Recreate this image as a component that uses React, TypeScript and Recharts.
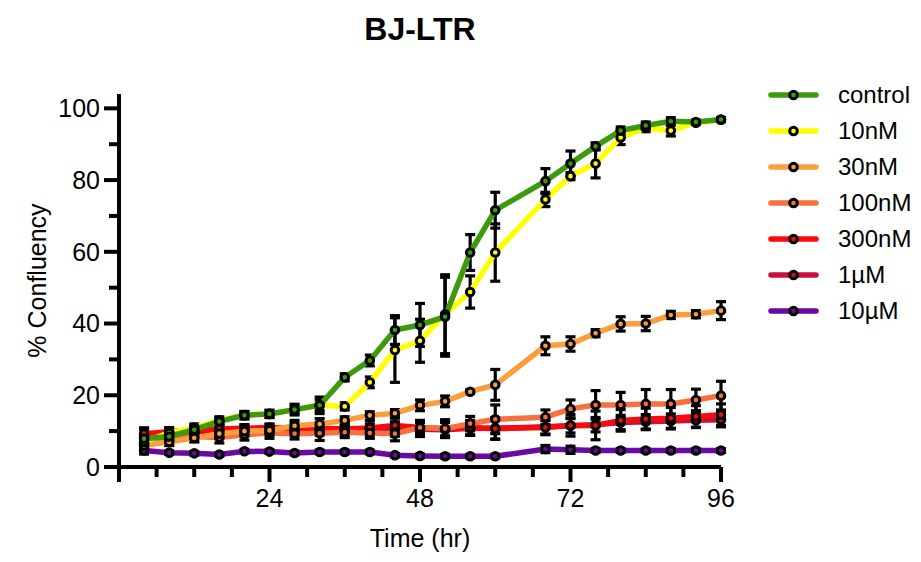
import React from 'react';
import { LineChart, Line, XAxis, YAxis, ErrorBar } from 'recharts';

// sampling times (hr) - no reading at 64
const times = [4, 8, 12, 16, 20, 24, 28, 32, 36, 40, 44, 48, 52, 56, 60, 68, 72, 76, 80, 84, 88, 92, 96];

const control = [7.9, 8.5, 10.4, 12.7, 14.4, 14.8, 16.0, 17.2, 25.0, 29.7, 38.2, 39.6, 41.9, 59.8, 71.6, 79.7, 84.6, 89.4, 93.8, 95.2, 96.4, 96.2, 96.9];
const controlErr = [3, 1.5, 1, 1, 1, 1, 1.5, 2.3, 1, 1.5, 4, 6, 11, 5, 5, 3.5, 3.5, 1, 1, 1, 1, 0.5, 0.5];

const nM10 = [7.0, 9.5, 11.0, 13.0, 14.5, 14.8, 16.0, 17.2, 16.9, 23.6, 32.6, 35.2, 42.6, 48.8, 59.8, 74.6, 81.1, 84.6, 91.9, 94.5, 93.8, 96.0, 96.8];
const nM10Err = [2, 1.5, 1, 1, 1, 1, 1, 1.5, 1, 1.5, 9, 6, 11, 4.5, 8, 2, 1, 4, 2, 1, 1.5, 0.5, 0.5];

const nM30 = [6.0, 7.0, 8.1, 9.3, 10.0, 10.2, 11.5, 12.0, 13.0, 14.4, 15.0, 17.2, 18.3, 21.0, 22.9, 33.8, 34.3, 37.3, 39.9, 40.0, 42.4, 42.6, 43.6];
const nM30Err = [1, 1, 1, 1, 1, 1, 1.5, 1.5, 1, 1, 1, 1.5, 1.5, 0.5, 4.3, 2.5, 2, 1, 2, 2, 1, 1, 2.5];

const nM100 = [6.5, 7.5, 8.5, 8.2, 9.0, 9.5, 9.3, 9.4, 9.7, 9.5, 9.3, 11.0, 10.7, 12.1, 13.3, 13.9, 16.2, 17.3, 17.3, 17.6, 17.6, 18.7, 19.9];
const nM100Err = [1.5, 1.5, 1.5, 1.5, 1.5, 1.5, 1.5, 2, 1.5, 1.5, 2, 2, 2.5, 2, 4, 2, 2.5, 4, 3.5, 4, 4, 3, 4];

const nM300 = [9.3, 9.8, 10.3, 10.6, 10.8, 11.0, 10.7, 10.8, 10.6, 10.9, 11.6, 11.0, 10.7, 11.0, 10.7, 11.0, 11.6, 11.6, 13.0, 13.4, 13.6, 14.1, 14.6];
const nM300Err = [1.5, 1, 1, 1, 1, 1, 1.5, 1.5, 1.5, 2, 2, 1.5, 2, 2, 3, 2, 3, 4, 3, 3, 3, 3, 3];

const uM1 = [8.5, 9.0, 9.5, 10.0, 10.2, 10.3, 10.2, 10.4, 10.3, 10.5, 10.6, 10.5, 10.4, 10.8, 10.8, 11.2, 11.5, 11.8, 12.4, 12.6, 12.8, 13.0, 13.2];
const uM1Err = [2, 1.5, 1.5, 1.5, 1.5, 1.5, 1.5, 1.5, 1.5, 1.5, 2, 2, 2, 2, 3, 2, 2, 2, 2, 2, 2, 2, 2];

const uM10 = [4.6, 4.0, 3.8, 3.5, 4.4, 4.3, 3.9, 4.2, 4.2, 4.2, 3.3, 3.1, 3.0, 3.0, 3.0, 5.0, 4.8, 4.6, 4.6, 4.6, 4.6, 4.6, 4.6];
const uM10Err = [1, 0.5, 0.5, 0.5, 0.5, 0.5, 0.5, 0.5, 0.5, 0.5, 0.5, 0.5, 0.5, 0.5, 0.5, 1, 1, 0.5, 0.5, 0.5, 0.5, 0.5, 0.5];

const xTicks = [0, 6, 12, 18, 24, 30, 36, 42, 48, 54, 60, 66, 72, 78, 84, 90, 96];
const yTicks = [0, 10, 20, 30, 40, 50, 60, 70, 80, 90, 100];

const series = [
  { key: 'control', name: 'control', color: '#3c9a0c', values: control, err: controlErr },
  { key: 'nM10', name: '10nM', color: '#ffff00', values: nM10, err: nM10Err },
  { key: 'nM30', name: '30nM', color: '#fb9e3e', values: nM30, err: nM30Err },
  { key: 'nM100', name: '100nM', color: '#f8703f', values: nM100, err: nM100Err },
  { key: 'nM300', name: '300nM', color: '#fa0a0a', values: nM300, err: nM300Err },
  { key: 'uM1', name: '1µM', color: '#c9103c', values: uM1, err: uM1Err },
  { key: 'uM10', name: '10µM', color: '#6a0aa0', values: uM10, err: uM10Err },
];

const data = times.map((t, i) => {
  const row: any = { time: t };
  series.forEach((s) => {
    row[s.key] = s.values[i];
    row[s.key + 'Err'] = s.err[i];
  });
  return row;
});

const font = '"Liberation Sans", Arial, sans-serif';

const XTick = (props: any) => {
  const { x, y, payload } = props;
  const v = payload.value;
  const major = v % 24 === 0;
  return (
    <g>
      <line x1={x} x2={x} y1={y} y2={y + (major ? 15 : 10)} stroke="#000" strokeWidth={4} />
      {major && v > 0 && (
        <text x={x} y={y + 31} dy="0.35em" textAnchor="middle" fontSize={25} fontFamily={font} fill="#000">
          {v}
        </text>
      )}
    </g>
  );
};

const YTick = (props: any) => {
  const { x, y, payload } = props;
  const v = payload.value;
  const major = v % 20 === 0;
  return (
    <g>
      <line x1={x} x2={x - (major ? 15 : 10)} y1={y} y2={y} stroke="#000" strokeWidth={4} />
      {major && (
        <text x={x - 19} y={y} dy="0.35em" textAnchor="end" fontSize={25} fontFamily={font} fill="#000">
          {v}
        </text>
      )}
    </g>
  );
};

const ChartLegend = () => (
  <svg width={160} height={260} style={{ position: 'absolute', left: 752, top: 70, overflow: 'visible' }}>
    {series.map((s, i) => {
      const cy = 17 + i * 36;
      return (
        <g key={s.key}>
          <line x1={11} x2={56} y1={cy} y2={cy} stroke={s.color} strokeWidth={5.5} strokeLinecap="round" />
          <circle cx={33.5} cy={cy} r={3.8} fill={s.color} stroke="#000" strokeWidth={3} />
          <text x={78} y={cy} dy="0.35em" fontSize={24} fontFamily={font} fill="#000">
            {s.name}
          </text>
        </g>
      );
    })}
  </svg>
);

const App = () => {
  return (
    <div style={{ position: 'relative', width: 905, height: 546, fontFamily: font }}>
      <div
        style={{
          position: 'absolute',
          left: 111,
          width: 602,
          top: 5,
          textAlign: 'center',
          fontSize: 32,
          fontWeight: 'bold',
          lineHeight: '32px',
        }}
      >
        BJ-LTR
      </div>
      <LineChart width={905} height={546} data={data} margin={{ top: 86, right: 192, left: 51, bottom: 27 }}>
        <XAxis
          dataKey="time"
          type="number"
          domain={[0, 96]}
          ticks={xTicks}
          interval={0}
          tickSize={0}
          tickMargin={0}
          tickLine={false}
          axisLine={{ stroke: '#000', strokeWidth: 4 }}
          tick={(p: any) => <XTick {...p} />}
          height={60}
          label={{
            content: (p: any) => (
              <text
                x={p.viewBox.x + p.viewBox.width / 2}
                y={p.viewBox.y + 71}
                dy="0.35em"
                textAnchor="middle"
                fontSize={25}
                fontFamily={font}
                fill="#000"
              >
                Time (hr)
              </text>
            ),
          }}
        />
        <YAxis
          type="number"
          domain={[0, 104]}
          ticks={yTicks}
          interval={0}
          tickSize={0}
          tickMargin={0}
          tickLine={false}
          axisLine={{ stroke: '#000', strokeWidth: 4 }}
          tick={(p: any) => <YTick {...p} />}
          width={60}
          label={{
            content: (p: any) => {
              const cx = 29;
              const cy = p.viewBox.y + p.viewBox.height / 2;
              return (
                <text
                  x={cx}
                  y={cy}
                  dy="0.35em"
                  textAnchor="middle"
                  fontSize={25}
                  fontFamily={font}
                  fill="#000"
                  transform={`rotate(-90, ${cx}, ${cy})`}
                >
                  % Confluency
                </text>
              );
            },
          }}
        />
        {[...series].reverse().map((s) => (
          <Line
            key={s.key}
            dataKey={s.key}
            name={s.name}
            type="linear"
            stroke={s.color}
            strokeWidth={5.5}
            dot={{ r: 3.8, stroke: '#000', strokeWidth: 3, fill: s.color }}
            activeDot={false}
            isAnimationActive={false}
          >
            <ErrorBar dataKey={s.key + 'Err'} width={5} stroke="#000" strokeWidth={3.2} isAnimationActive={false} />
          </Line>
        ))}
      </LineChart>
      <ChartLegend />
    </div>
  );
};

export default App;
